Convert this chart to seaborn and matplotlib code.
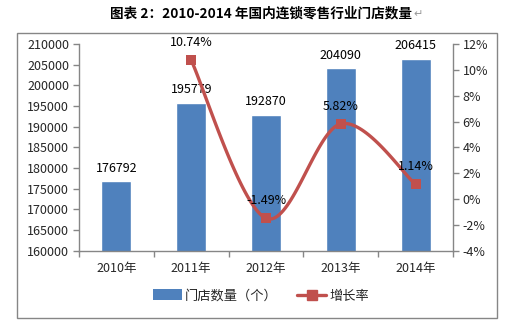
import numpy as np
import pandas as pd
import matplotlib
matplotlib.use("Agg")
import matplotlib.pyplot as plt
from matplotlib.lines import Line2D
from matplotlib.patches import Patch, Rectangle
from matplotlib.ticker import FuncFormatter, MultipleLocator, FixedLocator
import seaborn as sns

# ---- data ----
years = ["2010年", "2011年", "2012年", "2013年", "2014年"]
stores = [176792, 195779, 192870, 204090, 206415]
growth = [None, 10.74, -1.49, 5.82, 1.14]  # percent

title_text = "图表 2：2010-2014 年国内连锁零售行业门店数量"
bar_label = "门店数量（个）"
line_label = "增长率"

BAR_COLOR = "#4F81BD"
LINE_COLOR = "#C0504D"
AXIS_COLOR = "#868686"

sns.set_theme(style="white")
plt.rcParams["font.family"] = ["Noto Sans CJK SC", "DejaVu Sans"]
plt.rcParams["axes.unicode_minus"] = False

fig = plt.figure(figsize=(5.15, 3.3), dpi=100)
ax = fig.add_axes([79 / 515, (330 - 250.7) / 330, 374 / 515, 206.7 / 330])

df = pd.DataFrame({"year": years, "stores": stores})
sns.barplot(data=df, x="year", y="stores", color=BAR_COLOR, width=0.4,
            saturation=1, ax=ax)
ax.set_xlim(-0.5, len(years) - 0.5)
ax.set_ylim(160000, 210000)
ax.yaxis.set_major_locator(MultipleLocator(5000))
ax.set_xlabel("")
ax.set_ylabel("")

for i, v in enumerate(stores):
    ax.annotate(f"{v}", (i, v), xytext=(0, 9.5), textcoords="offset points",
                ha="center", va="center", fontsize=9, color="black")

# growth line on secondary axis, smoothed with a cubic Bezier spline
ax2 = ax.twinx()
gx = np.array([i for i, g in enumerate(growth) if g is not None], dtype=float)
gy = np.array([g for g in growth if g is not None], dtype=float)

def smooth(xs, ys, n=40):
    px = np.concatenate([[xs[0]], xs, [xs[-1]]])
    py = np.concatenate([[ys[0]], ys, [ys[-1]]])
    out_x, out_y = [], []
    t = np.linspace(0, 1, n)
    for k in range(1, len(px) - 2):
        p0 = np.array([px[k], py[k]])
        p3 = np.array([px[k + 1], py[k + 1]])
        p1 = p0 + (np.array([px[k + 1], py[k + 1]]) - np.array([px[k - 1], py[k - 1]])) / 6
        p2 = p3 - (np.array([px[k + 2], py[k + 2]]) - np.array([px[k], py[k]])) / 6
        b = ((1 - t) ** 3)[:, None] * p0 + (3 * (1 - t) ** 2 * t)[:, None] * p1 \
            + (3 * (1 - t) * t ** 2)[:, None] * p2 + (t ** 3)[:, None] * p3
        out_x.extend(b[:, 0])
        out_y.extend(b[:, 1])
    return np.array(out_x), np.array(out_y)

sx, sy = smooth(gx, gy)
ax2.plot(sx, sy, color=LINE_COLOR, lw=2.4, solid_capstyle="round", zorder=3)
sns.scatterplot(x=gx, y=gy, marker="s", s=55, color=LINE_COLOR,
                edgecolor=LINE_COLOR, linewidth=0, ax=ax2, zorder=4)
ax2.set_ylim(-4, 12)
ax2.yaxis.set_major_locator(MultipleLocator(2))
ax2.yaxis.set_major_formatter(FuncFormatter(lambda v, p: f"{v:.0f}%"))
ax2.set_xlim(-0.5, len(years) - 0.5)

for xv, yv in zip(gx, gy):
    ax2.annotate(f"{yv:.2f}%", (xv, yv), xytext=(0, 12.5), textcoords="offset points",
                 ha="center", va="center", fontsize=9, color="black")

# axes styling
for a in (ax, ax2):
    a.spines["top"].set_visible(False)
    for s in ("left", "right", "bottom"):
        a.spines[s].set_color(AXIS_COLOR)
        a.spines[s].set_linewidth(1)
    a.grid(False)
ax.spines["right"].set_visible(False)
ax2.spines["left"].set_visible(False)
ax2.spines["bottom"].set_visible(False)

ax.tick_params(axis="y", which="major", direction="out", length=4, width=1,
               color=AXIS_COLOR, labelsize=9, pad=3, left=True)
ax2.tick_params(axis="y", which="major", direction="out", length=4, width=1,
                color=AXIS_COLOR, labelsize=9, pad=3, right=True)
ax.xaxis.set_minor_locator(FixedLocator(np.arange(-0.5, len(years), 1.0)))
ax.tick_params(axis="x", which="major", length=0, labelsize=9, pad=8)
ax.tick_params(axis="x", which="minor", direction="out", length=4, width=1,
               color=AXIS_COLOR, bottom=True)

# legend at the bottom
handles = [Patch(facecolor=BAR_COLOR, edgecolor="none"),
           Line2D([0], [0], color=LINE_COLOR, lw=2.4, marker="s", markersize=7)]
fig.legend(handles, [bar_label, line_label], loc="center",
           bbox_to_anchor=(261 / 515, 1 - 296 / 330), ncol=2, frameon=False,
           fontsize=9.5, handlelength=2.2, handleheight=0.9, columnspacing=1.5,
           handletextpad=0.2)

# title, paragraph mark and outer frame
title = fig.text(110 / 515, 1 - 13 / 330, title_text, ha="left", va="center",
                 fontsize=9.8, fontweight="bold", color="black")
fig.canvas.draw()
bb = title.get_window_extent(renderer=fig.canvas.get_renderer())
fig.text((bb.x1 + 1) / 515, 1 - 14 / 330, "↵", ha="left", va="center",
         fontsize=8, color="#999999", family=["DejaVu Sans"])
fig.patches.append(Rectangle((17 / 515, 12 / 330), 480 / 515, 285 / 330,
                             transform=fig.transFigure, fill=False,
                             edgecolor=AXIS_COLOR, lw=1))

fig.savefig("out.png", dpi=100)
